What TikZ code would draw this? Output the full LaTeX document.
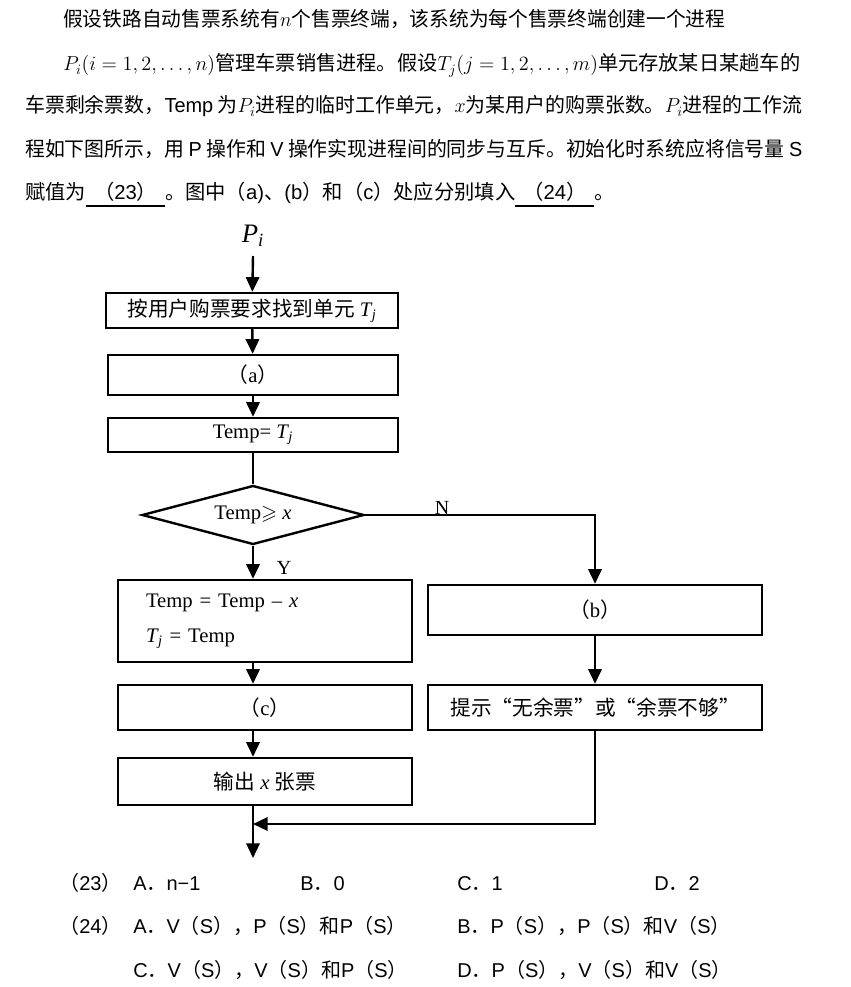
\documentclass[tikz,border=0pt]{standalone}
\usepackage{fix-cm}
\usepackage{amssymb}
\usepackage{graphicx}
\usepackage{fontspec}
\setmainfont{Liberation Serif}
\newfontfamily\cjk{Noto Sans CJK SC}
\newfontfamily\ar{Liberation Sans}
\usetikzlibrary{shapes.geometric,arrows.meta}
\newcommand\zh[1]{{\cjk #1}}
\newcommand\zlq{\makebox[1em][r]{“}}
\newcommand\zrq{\makebox[1em][l]{”}}
\newcommand\Tj{\textit{T}\kern-0.5pt\textsubscript{\textit{j}}}
\newcommand\myul[1]{\setbox0\hbox{#1}\rlap{\rule[-5pt]{\wd0}{1.2pt}}\box0}
\newcommand\fitto[2]{\resizebox{#1}{\height}{#2}}
\begin{document}
\begin{tikzpicture}[x=0.75pt,y=-0.75pt,
  txt/.style={anchor=base west, inner sep=0, font=\fontsize{15.2}{15.2}\cjk},
  opt/.style={anchor=base west, inner sep=0, font=\fontsize{15}{15}\ar},
  box/.style={draw, line width=1.8pt, inner sep=0, font=\fontsize{15.5}{18}\selectfont},
  dia/.style={draw, diamond, aspect=3.76, line width=1.8pt, inner sep=0,
    minimum width=222*0.75pt, minimum height=59*0.75pt, font=\fontsize{15.5}{18}\selectfont},
  lbl/.style={inner sep=0, font=\fontsize{15}{15}\selectfont},
  arr/.style={line width=1.8pt, -{Triangle[length=11pt,width=10pt]}},
  ln/.style={line width=1.8pt}]
\fill[white] (0,0) rectangle (850,987);
\useasboundingbox (0,0) rectangle (850,987);

% question text
\node[txt] (l1) at (63,27) {\fitto{496.5pt}{假设铁路自动售票系统有$n$个售票终端，该系统为每个售票终端创建一个进程}};
\node[txt] (l2) at (63,71) {\fitto{552.75pt}{$P_i(i = 1, 2, \ldots, n)$管理车票销售进程。假设$T_j(j = 1, 2, \ldots, m)$单元存放某日某趟车的}};
\node[txt] (l3) at (25,113) {\fitto{582.75pt}{车票剩余票数，{\ar Temp} 为$P_i$进程的临时工作单元，$x$为某用户的购票张数。$P_i$进程的工作流}};
\node[txt] (l4) at (25,157) {\fitto{582.75pt}{程如下图所示，用 {\ar P} 操作和 {\ar V} 操作实现进程间的同步与互斥。初始化时系统应将信号量 {\ar S}}};
\node[txt] (l5) at (25,200) {赋值为\myul{\hspace{6pt}（{\ar 23}）\hspace{6pt}}。图中（{\ar a)}、{\ar (b}）和（{\ar c}）处应分别填入\myul{\hspace{6pt}（{\ar 24}）\hspace{6pt}}。};

% flowchart
\node[inner sep=0, font=\fontsize{20}{20}\selectfont] (pi) at (253,236) {\textit{P}\textsubscript{\textit{i}}};
\coordinate (st) at (253,256);
\node[box, minimum width=292*0.75pt, minimum height=35*0.75pt] (b1) at (252,310.5) {\zh{按用户购票要求找到单元} \Tj};
\node[box, minimum width=290*0.75pt, minimum height=40*0.75pt] (ba) at (253,375) {\zh{（}a\zh{）}};
\node[box, minimum width=290*0.75pt, minimum height=34*0.75pt] (bt) at (253,435) {Temp= \Tj};
\node[dia] (d) at (253,515) {Temp$\geqslant$ \textit{x}};
\node[box, minimum width=294*0.75pt, minimum height=82*0.75pt, align=left,
  text width=238*0.75pt, inner xsep=21pt, font=\fontsize{15.5}{26}\selectfont] (bl) at (265,621) {Temp = Temp – \textit{x}\\\Tj\ = Temp};
\node[box, minimum width=334*0.75pt, minimum height=50*0.75pt] (bb) at (595,610) {\zh{（}b\zh{）}};
\node[box, minimum width=294*0.75pt, minimum height=45*0.75pt] (bc) at (265,707.5) {\zh{（}c\zh{）}};
\node[box, minimum width=334*0.75pt, minimum height=45*0.75pt] (bp) at (595,707.5) {\zh{提示\zlq 无余票\zrq 或\zlq 余票不够\zrq}};
\node[box, minimum width=294*0.75pt, minimum height=47*0.75pt] (bo) at (265,781.5) {\zh{输出} \textit{x} \zh{张票}};
\node[lbl] (yl) at (284,568) {Y};
\node[lbl] (nl) at (442,508) {N};
\coordinate (join) at (253,824);
\coordinate (fin) at (253,858);

\draw[arr] (st) -- (b1);
\draw[arr] (b1) -- (ba);
\draw[arr] (ba) -- (bt);
\draw[ln] (bt) -- (d);
\draw[arr] (d.south) -- (d.south |- bl.north);
\draw[arr] (d.east) -| (bb.north);
\draw[arr] (d.south |- bl.south) -- (d.south |- bc.north);
\draw[arr] (d.south |- bc.south) -- (d.south |- bo.north);
\draw[arr] (bb) -- (bp);
\draw[arr] (d.south |- bo.south) -- (fin);
\draw[arr] (bp.south) |- (join);

% options
\node[opt] (q23) at (59,890) {\zh{（}23\zh{）}};
\node[opt] (a23) at (133,890) {A\zh{．}n−1};
\node[opt] (b23) at (300,890) {B\zh{．}0};
\node[opt] (c23) at (457,890) {C\zh{．}1};
\node[opt] (d23) at (654,890) {D\zh{．}2};
\node[opt] (q24) at (59,933) {\zh{（}24\zh{）}};
\node[opt] (a24) at (133,933) {A\zh{．}V\zh{（}S\zh{），}P\zh{（}S\zh{）和}P\zh{（}S\zh{）}};
\node[opt] (b24) at (457,933) {B\zh{．}P\zh{（}S\zh{），}P\zh{（}S\zh{）和}V\zh{（}S\zh{）}};
\node[opt] (c24) at (133,977) {C\zh{．}V\zh{（}S\zh{），}V\zh{（}S\zh{）和}P\zh{（}S\zh{）}};
\node[opt] (d24) at (457,977) {D\zh{．}P\zh{（}S\zh{），}V\zh{（}S\zh{）和}V\zh{（}S\zh{）}};
\end{tikzpicture}
\end{document}
